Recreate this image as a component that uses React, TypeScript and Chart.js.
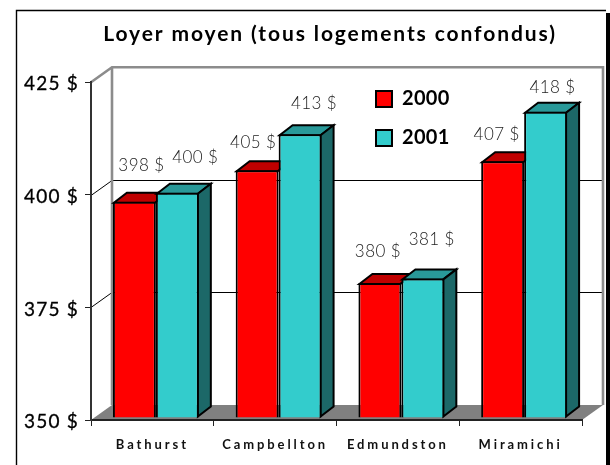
import React, { useEffect, useRef } from "react";
import { Chart, registerables } from "chart.js";

Chart.register(...registerables);

const titleText = "Loyer moyen (tous logements confondus)";
const categories = ["Bathurst", "Campbellton", "Edmundston", "Miramichi"];
const series2000 = [398, 405, 380, 407];
const series2001 = [400, 413, 381, 418];
const yTicks = [350, 375, 400, 425];

const RED = "#FF0000";
const RED_TOP = "#C00000";
const TEAL = "#33CCCC";
const TEAL_TOP = "#299999";
const TEAL_SIDE = "#1C6868";
const FONT = "Lato, 'Noto Sans', sans-serif";

// Oblique offsets of the Excel-style 3D view
const WALL_DX = 21;
const WALL_DY = -15;
const BAR_SHIFT_X = 3.5;
const BAR_SHIFT_Y = -2;
const BAR_DX = 13;
const BAR_DY = -10;

// Label offsets from the centre of each bar's top edge: [2000, 2001] per category
const LABEL_OFFSETS = [
  [[7, -36], [18, -35]],
  [[-4, -28], [14, -30.5]],
  [[-2, -31], [9, -38.5]],
  [[-6, -26.5], [7, -24]],
];

function spaced(target: any, method: string, spacing: string, dy = 0) {
  const orig = target[method];
  target[method] = function (...args: any[]) {
    const ctx = target.ctx;
    ctx.save();
    ctx.letterSpacing = spacing;
    ctx.translate(0, dy);
    orig.apply(target, args);
    ctx.restore();
  };
}

function poly(ctx: CanvasRenderingContext2D, pts: number[][], fill: string | null, stroke: string | null, lw = 2) {
  ctx.beginPath();
  pts.forEach((p, i) => (i ? ctx.lineTo(p[0], p[1]) : ctx.moveTo(p[0], p[1])));
  ctx.closePath();
  if (fill) {
    ctx.fillStyle = fill;
    ctx.fill();
  }
  if (stroke) {
    ctx.strokeStyle = stroke;
    ctx.lineWidth = lw;
    ctx.lineJoin = "miter";
    ctx.stroke();
  }
}

const scenePlugin = {
  id: "scene3d",
  afterLayout(chart: any) {
    if (!chart.$spaced) {
      chart.$spaced = true;
      spaced(chart.scales.y, "drawLabels", "1.2px", 2);
      spaced(chart.scales.x, "drawLabels", "2.9px");
      spaced(chart.titleBlock, "draw", "1.9px");
      spaced(chart.legend, "draw", "0.3px");
    }
    // title centred on the chart's visual middle, legend inside the plot
    chart.titleBlock.left = 102;
    chart.titleBlock.right = 558;
    chart.titleBlock.width = 456;
    const legend = chart.legend;
    const w = legend.width;
    const h = legend.height;
    legend.left = 357;
    legend.top = 70;
    legend.right = 357 + w;
    legend.bottom = 70 + h;
  },
  beforeDraw(chart: any) {
    const { ctx, chartArea: a, scales } = chart;
    const { left: l, right: r, bottom: b, top: t } = a;
    ctx.save();
    // outer frame
    ctx.fillStyle = "#FFFFFF";
    ctx.fillRect(0, 0, chart.width, chart.height);
    ctx.strokeStyle = "#000";
    ctx.lineWidth = 1.4;
    ctx.beginPath();
    ctx.moveTo(16.5, chart.height);
    ctx.lineTo(16.5, 10.5);
    ctx.lineTo(606, 10.5);
    ctx.stroke();
    ctx.fillStyle = "#000";
    ctx.fillRect(606, 13, 4, chart.height - 13);
    // floor
    poly(ctx, [[l, b], [l + WALL_DX, b + WALL_DY], [r + WALL_DX, b + WALL_DY], [r, b]], "#808080", null);
    // wall gridlines
    ctx.strokeStyle = "#000";
    ctx.lineWidth = 1;
    yTicks.slice(1, -1).forEach((v) => {
      const y = Math.round(scales.y.getPixelForValue(v)) + 0.5;
      ctx.beginPath();
      ctx.moveTo(l, y);
      ctx.lineTo(l + WALL_DX, y + WALL_DY);
      ctx.lineTo(r + WALL_DX, y + WALL_DY);
      ctx.stroke();
    });
    // wall outline
    ctx.strokeStyle = "#8C8C8C";
    ctx.lineWidth = 2.6;
    ctx.beginPath();
    ctx.moveTo(l, t);
    ctx.lineTo(l + WALL_DX, t + WALL_DY);
    ctx.lineTo(r + WALL_DX, t + WALL_DY);
    ctx.lineTo(r + WALL_DX, b + WALL_DY);
    ctx.moveTo(l + WALL_DX, t + WALL_DY);
    ctx.lineTo(l + WALL_DX, b + WALL_DY);
    ctx.stroke();
    ctx.restore();
  },
  beforeDatasetsDraw(chart: any) {
    const { ctx } = chart;
    ctx.save();
    ctx.translate(BAR_SHIFT_X, BAR_SHIFT_Y);
    chart.data.datasets.forEach((_: any, di: number) => {
      chart.getDatasetMeta(di).data.forEach((bar: any) => {
        const half = bar.width / 2;
        const x0 = bar.x - half;
        const x1 = bar.x + half;
        const top = bar.y + 1;
        const base = bar.base - 1;
        poly(ctx, [[x0 + 1, top], [x1 - 1, top], [x1 + BAR_DX - 1, top + BAR_DY], [x0 + BAR_DX + 1, top + BAR_DY]],
          di === 0 ? RED_TOP : TEAL_TOP, "#000");
        if (di === 1) {
          poly(ctx, [[x1 - 1, top], [x1 + BAR_DX - 1, top + BAR_DY], [x1 + BAR_DX - 1, base + BAR_DY], [x1 - 1, base]],
            TEAL_SIDE, "#000");
        }
      });
    });
    // the front faces drawn next keep this shift until afterDatasetsDraw
  },
  afterDatasetsDraw(chart: any) {
    const { ctx } = chart;
    ctx.restore();
    // value labels
    ctx.save();
    ctx.font = `300 17px ${FONT}`;
    ctx.fillStyle = "#222222";
    ctx.letterSpacing = "0.4px";
    ctx.textAlign = "center";
    ctx.textBaseline = "middle";
    chart.data.datasets.forEach((ds: any, di: number) => {
      chart.getDatasetMeta(di).data.forEach((bar: any, i: number) => {
        const o = LABEL_OFFSETS[i][di];
        ctx.fillText(`${ds.data[i]} $`, bar.x + BAR_SHIFT_X + o[0], bar.y + BAR_SHIFT_Y + o[1]);
      });
    });
    ctx.restore();
  },
};

export default function App() {
  const ref = useRef<HTMLCanvasElement | null>(null);
  useEffect(() => {
    const chart = new Chart(ref.current as HTMLCanvasElement, {
      type: "bar",
      data: {
        labels: categories,
        datasets: [
          { label: "2000", data: series2000, base: yTicks[0], backgroundColor: RED, borderColor: "#000", borderWidth: 2 },
          { label: "2001", data: series2001, base: yTicks[0], backgroundColor: TEAL, borderColor: "#000", borderWidth: 2 },
        ],
      },
      options: {
        responsive: false,
        animation: false,
        layout: { padding: { left: 0, right: 28, top: 0, bottom: 0 } },
        datasets: { bar: { barPercentage: 1, categoryPercentage: 0.7, clip: false } },
        scales: {
          x: {
            grid: { offset: true, drawOnChartArea: false, drawTicks: true, tickLength: 6, color: "#222" },
            border: { display: true, color: "#222", width: 2 },
            ticks: { font: { family: FONT, size: 13, weight: "bold" }, color: "#111", padding: 11, maxRotation: 0, autoSkip: false },
            afterFit: (s: any) => { s.height = 45; },
          },
          y: {
            min: 350,
            max: 425,
            grid: { drawOnChartArea: false, drawTicks: true, tickLength: 6, color: "#222" },
            border: { display: true, color: "#333", width: 2 },
            ticks: {
              stepSize: 25,
              font: { family: FONT, size: 19 },
              color: "#000",
              textStrokeColor: "#000",
              textStrokeWidth: 0.3,
              padding: 6,
              callback: (v: any) => `${v} $`,
            },
            afterFit: (s: any) => { s.width = 91; },
          },
        },
        plugins: {
          title: {
            display: true,
            text: titleText,
            font: { family: FONT, size: 21, weight: "bold" },
            color: "#000",
            fullSize: false,
            padding: { top: 22, bottom: 35 },
          },
          legend: {
            position: "chartArea",
            align: "start",
            labels: {
              boxWidth: 16,
              boxHeight: 16,
              padding: 19,
              color: "#000",
              font: { family: FONT, size: 20, weight: "bold" },
            },
          },
          tooltip: { enabled: false },
        },
      },
      plugins: [scenePlugin],
    } as any);
    return () => chart.destroy();
  }, []);
  return (
    <div style={{ position: "absolute", left: 0, top: 0, width: 610, height: 465 }}>
      <canvas ref={ref} width={610} height={465} style={{ display: "block" }} />
    </div>
  );
}
